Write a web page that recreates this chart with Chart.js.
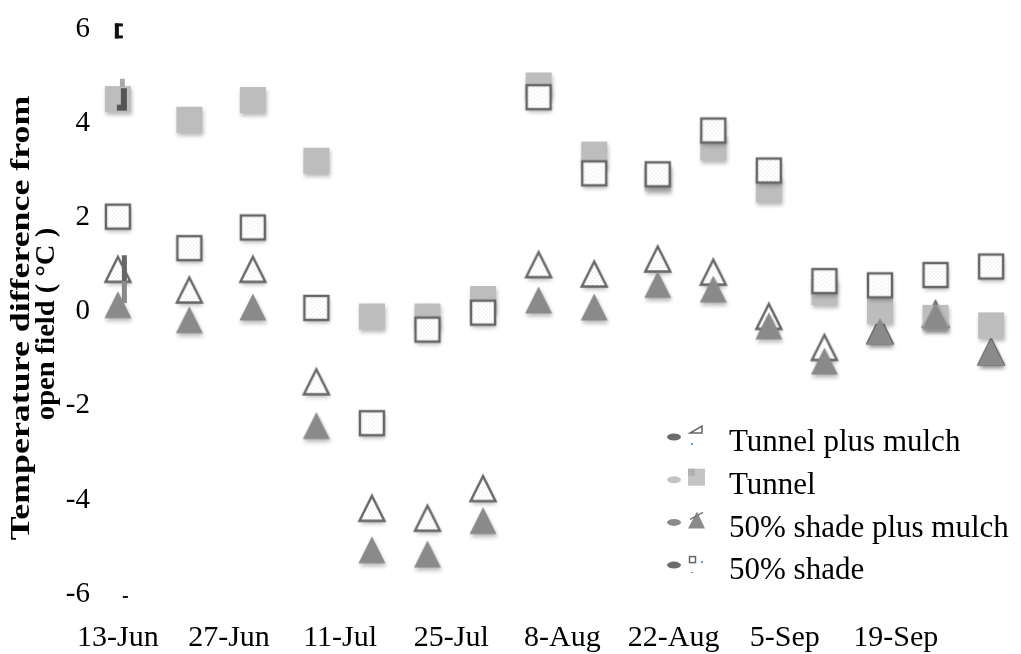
<!DOCTYPE html>
<html>
<head>
<meta charset="utf-8">
<script src="https://cdn.jsdelivr.net/npm/chart.js@4.4.1/dist/chart.umd.min.js"></script>
<style>
  body { margin: 0; background: #fff; }
  canvas { display: block; }
</style>
</head>
<body>
<canvas id="tempChart" width="1021" height="654"></canvas>
<script>
// sampling dates and temperature differences from open field (°C)
const sampleDates = ['13-Jun', '22-Jun', '30-Jun', '8-Jul', '15-Jul', '22-Jul', '29-Jul', '5-Aug',
  '12-Aug', '20-Aug', '27-Aug', '3-Sep', '10-Sep', '17-Sep', '24-Sep', '1-Oct'];
const tunnelPlusMulch = [0.9, 0.46, 0.9, -1.49, -4.18, -4.39, -3.76, 1.0, 0.8, 1.12, 0.84, -0.1, -0.76, -0.4, -0.05, -0.85];
const tunnel = [4.52, 4.08, 4.5, 3.21, -0.1, -0.1, 0.27, 4.81, 3.34, 2.84, 3.49, 2.6, 0.42, 0.02, -0.13, -0.29];
const shadePlusMulch = [0.15, -0.17, 0.1, -2.42, -5.06, -5.15, -4.44, 0.25, 0.1, 0.58, 0.48, -0.3, -1.05, -0.42, -0.08, -0.86];
const shade50 = [2.02, 1.35, 1.79, 0.08, -2.37, -0.38, -0.02, 4.56, 2.94, 2.92, 3.85, 3.0, 0.65, 0.56, 0.78, 0.96];

const xTickLabels = ['13-Jun', '27-Jun', '11-Jul', '25-Jul', '8-Aug', '22-Aug', '5-Sep', '19-Sep'];
const yTickValues = [-6, -4, -2, 0, 2, 4, 6];
const yTitle = ['Temperature difference from', 'open field ( °C )'];

const MONTHS = { Jun: 5, Jul: 6, Aug: 7, Sep: 8, Oct: 9 };
function dayOf(s) {
  const [d, m] = s.split('-');
  return (Date.UTC(2000, MONTHS[m], +d) - Date.UTC(2000, 5, 13)) / 864e5;
}
const days = sampleDates.map(dayOf);
const tickDays = xTickLabels.map(dayOf);
const pts = arr => arr.map((v, i) => ({ x: days[i], y: v }));

const SERIF = '"Liberation Serif", "Times New Roman", serif';

// marker images
const dots = document.createElement('canvas');
dots.width = 4; dots.height = 4;
const dg = dots.getContext('2d');
dg.fillStyle = '#fff'; dg.fillRect(0, 0, 4, 4);
dg.fillStyle = '#dfe4ec'; dg.fillRect(0, 0, 1, 1); dg.fillRect(2, 2, 1, 1);

function marker(draw) {
  const c = document.createElement('canvas');
  c.width = 40; c.height = 40;
  const g = c.getContext('2d');
  g.shadowColor = 'rgba(0,0,0,0.28)';
  g.shadowBlur = 4;
  g.shadowOffsetY = 3;
  g.shadowOffsetX = 1;
  draw(g, 20, 20);
  return c;
}
function triPath(g, cx, cy, h) {
  g.beginPath();
  g.moveTo(cx, cy - h);
  g.lineTo(cx + h, cy + h);
  g.lineTo(cx - h, cy + h);
  g.closePath();
}
const openTri = marker((g, cx, cy) => {
  triPath(g, cx, cy, 12.5);
  g.fillStyle = g.createPattern(dots, 'repeat');
  g.fill();
  g.shadowColor = 'transparent';
  g.lineWidth = 2.4;
  g.strokeStyle = '#666';
  g.stroke();
});
const fillTri = marker((g, cx, cy) => {
  triPath(g, cx, cy, 13.5);
  g.fillStyle = '#8a8a8a';
  g.fill();
});
const graySq = marker((g, cx, cy) => {
  g.fillStyle = '#bdbdbd';
  g.fillRect(cx - 13, cy - 13, 26, 26);
});
const openSq = marker((g, cx, cy) => {
  g.fillStyle = g.createPattern(dots, 'repeat');
  g.fillRect(cx - 12, cy - 12, 24, 24);
  g.shadowColor = 'transparent';
  g.lineWidth = 2.5;
  g.strokeStyle = '#666';
  g.strokeRect(cx - 12, cy - 12, 24, 24);
});

// axis title (first line stretched like the original), stray marks and legend
const extrasPlugin = {
  id: 'extras',
  afterDraw(chart) {
    const { ctx, scales: { x, y } } = chart;
    const x0 = x.getPixelForValue(0);
    ctx.save();

    // y axis title
    ctx.fillStyle = '#000';
    ctx.font = 'bold 28px ' + SERIF;
    ctx.textAlign = 'center';
    ctx.textBaseline = 'middle';
    [[22, 318, 1.28], [47, 324, 1.02]].forEach(([tx, ty, sx], i) => {
      ctx.save();
      ctx.translate(tx, ty);
      ctx.rotate(-Math.PI / 2);
      ctx.scale(sx, 1);
      ctx.fillText(yTitle[i], 0, 0);
      ctx.restore();
    });

    // bracket near the top and dash near the bottom
    const yTop = y.getPixelForValue(6);
    ctx.fillStyle = '#111';
    ctx.fillRect(x0 - 3, yTop - 6, 4, 15);
    ctx.fillRect(x0 - 3, yTop - 6, 8, 3);
    ctx.fillRect(x0 - 3, yTop + 6, 8, 3);
    ctx.fillRect(x0 + 5, y.getPixelForValue(-6) + 2, 5, 2);
    // small bars on the first sampling date
    ctx.fillStyle = '#aaa';
    ctx.fillRect(x0 + 2, y.getPixelForValue(4.95), 5, 8);
    ctx.fillStyle = '#555';
    ctx.fillRect(x0 + 3, y.getPixelForValue(4.75), 6, 20);
    ctx.fillRect(x0 - 1, y.getPixelForValue(4.4), 10, 6);
    ctx.fillStyle = '#666';
    ctx.fillRect(x0 + 4, y.getPixelForValue(1.2), 5, 26);
    ctx.fillStyle = '#8a8a8a';
    ctx.fillRect(x0 + 4, y.getPixelForValue(0.65), 5, 22);

    // legend
    const rows = [
      { label: 'Tunnel plus mulch', pill: '#6b6b6b' },
      { label: 'Tunnel', pill: '#c4c4c4' },
      { label: '50% shade plus mulch', pill: '#8a8a8a' },
      { label: '50% shade', pill: '#6b6b6b' }
    ];
    const lx = 668, ly = 442, step = 42.7;
    ctx.font = '31px ' + SERIF;
    ctx.textAlign = 'left';
    ctx.textBaseline = 'middle';
    rows.forEach((r, i) => {
      const cy = ly + i * step;
      ctx.fillStyle = r.pill;
      ctx.beginPath();
      ctx.ellipse(lx + 6, cy - 5, 7, 3.5, 0, 0, Math.PI * 2);
      ctx.fill();
      ctx.fillStyle = '#000';
      ctx.fillText(r.label, 729, cy + 1);
    });
    // legend icons
    let cy = ly;
    ctx.strokeStyle = '#666';
    ctx.lineWidth = 1.5;
    ctx.beginPath();
    ctx.moveTo(702, cy - 16); ctx.lineTo(702, cy - 9); ctx.lineTo(690, cy - 9); ctx.closePath();
    ctx.stroke();
    ctx.fillStyle = '#5b9bd5';
    ctx.fillRect(691, cy + 1, 2, 2);
    cy = ly + step;
    ctx.fillStyle = '#c4c4c4';
    ctx.fillRect(688, cy - 16, 17, 17);
    ctx.fillStyle = '#b0b0b0';
    ctx.fillRect(688, cy - 16, 7, 7);
    cy = ly + 2 * step;
    ctx.fillStyle = '#8a8a8a';
    ctx.beginPath();
    ctx.moveTo(697, cy - 16); ctx.lineTo(705, cy + 1); ctx.lineTo(688, cy + 1); ctx.closePath();
    ctx.fill();
    ctx.strokeStyle = '#777';
    ctx.beginPath();
    ctx.moveTo(690, cy - 8); ctx.lineTo(703, cy - 15);
    ctx.stroke();
    cy = ly + 3 * step;
    ctx.strokeStyle = '#666';
    ctx.lineWidth = 1.5;
    ctx.strokeRect(689.5, cy - 13.5, 6, 6);
    ctx.fillStyle = '#5b9bd5';
    ctx.fillRect(701, cy - 9, 2, 2);
    ctx.fillRect(691, cy + 2, 2, 1);
    ctx.restore();
  }
};

const ds = (label, arr, style, order) => ({
  label, data: pts(arr), pointStyle: style, pointRadius: 13, pointHoverRadius: 13,
  showLine: false, order, clip: false
});

new Chart(document.getElementById('tempChart'), {
  type: 'scatter',
  data: {
    datasets: [
      ds('Tunnel plus mulch', tunnelPlusMulch, openTri, 3),
      ds('Tunnel', tunnel, graySq, 2),
      ds('50% shade plus mulch', shadePlusMulch, fillTri, 1),
      ds('50% shade', shade50, openSq, 0)
    ]
  },
  options: {
    responsive: false,
    devicePixelRatio: 1,
    animation: false,
    events: [],
    layout: { padding: { top: 20, right: 5, bottom: 0, left: 0 } },
    plugins: { legend: { display: false }, tooltip: { enabled: false } },
    scales: {
      x: {
        type: 'linear',
        min: -2,
        max: 112,
        grid: { display: false, drawTicks: false },
        border: { display: false },
        afterFit: s => { s.height = 60; },
        afterBuildTicks: s => { s.ticks = tickDays.map(v => ({ value: v })); },
        ticks: {
          padding: 26,
          color: '#000',
          font: { family: SERIF, size: 30 },
          maxRotation: 0,
          autoSkip: false,
          callback: v => xTickLabels[tickDays.indexOf(v)]
        }
      },
      y: {
        min: -6,
        max: 6,
        grid: { display: false, drawTicks: false },
        border: { display: false },
        afterFit: s => { s.width = 102; },
        afterBuildTicks: s => { s.ticks = yTickValues.map(v => ({ value: v })); },
        ticks: {
          padding: 12,
          color: '#000',
          font: { family: SERIF, size: 29 },
          callback: v => String(v)
        },
        title: { display: false }
      }
    }
  },
  plugins: [extrasPlugin]
});
</script>
</body>
</html>
